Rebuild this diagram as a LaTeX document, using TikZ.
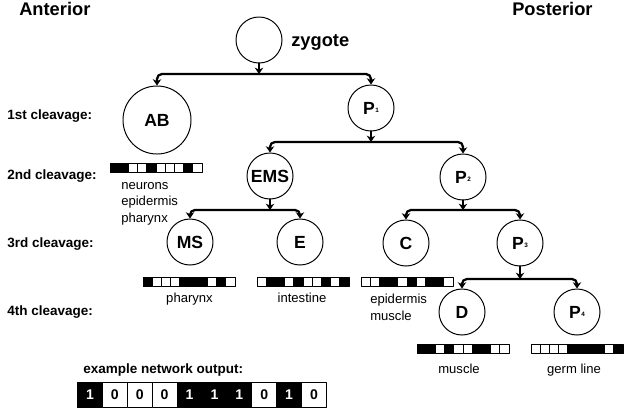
\documentclass[tikz,border=0pt]{standalone}
\usepackage{fontspec}
\setmainfont{Liberation Sans}
\usetikzlibrary{arrows.meta}
\begin{document}
\begin{tikzpicture}[x=0.025cm,y=-0.025cm,line cap=round,line join=round,font=\fontsize{9.3}{11}\selectfont]
	\useasboundingbox (0,0) rectangle (636,410);
	\def\ps#1{\kern0.4pt\raisebox{0.8pt}{\fontsize{4.5}{5}\selectfont#1}}
	\tikzset{cell/.style={circle,draw,line width=0.7pt,inner sep=0pt,minimum size=1.15cm,font=\fontsize{12.5}{14}\selectfont\bfseries},
		big/.style={cell,minimum size=1.7cm},
		txt/.style={anchor=base west,inner sep=0pt},
		lab/.style={txt,font=\fontsize{9.6}{11}\selectfont\bfseries},
		head/.style={txt,font=\fontsize{13}{15}\selectfont\bfseries},
		link/.style={line width=1.6pt,rounded corners=3.5pt,-{Stealth[length=4.5pt,width=6pt]}},
		split/.style={link,{Stealth[length=4.5pt,width=6pt]}-{Stealth[length=4.5pt,width=6pt]}},
		bar/.pic={\foreach \b [count=\i from 0] in {#1}{\ifnum\b=1 \def\fc{black}\else\def\fc{white}\fi
				\draw[fill=\fc,line width=0.7pt] (\i*9.2,0) rectangle ++(9.2,9.5);}}}
	% headings
	\node[head] (ant) at (19,15) {Anterior};
	\node[head] (post) at (512,15) {Posterior};
	\foreach \lb/\y [count=\i] in {1st/119,2nd/179,3rd/247,4th/315}{\node[lab] (cl\i) at (7,\y) {\lb\ cleavage:};}
	% cells
	\node[cell] (zy) at (259,40) {};
	\node[head] (zyl) at (291,46) {zygote};
	\node[big] (ab) at (157,120) {AB};
	\node[cell] (p1) at (371,108) {P\ps1};
	\node[cell] (ems) at (270,176) {EMS};
	\node[cell] (p2) at (463,177) {P\ps2};
	\node[cell] (ms) at (190,242) {MS};
	\node[cell] (e) at (300,242) {E};
	\node[cell] (c) at (406,243) {C};
	\node[cell] (p3) at (520,243) {P\ps3};
	\node[cell] (d) at (462,312) {D};
	\node[cell] (p4) at (577,312) {P\ps4};
	% divisions
	\coordinate (s1) at (259,74);
	\coordinate (s2) at (371,142);
	\coordinate (s3) at (270,210);
	\coordinate (s4) at (463,210);
	\coordinate (s5) at (520,279);
	\draw[link] (zy) -- (s1);\draw[split] (ab) |- (s1) -| (p1);
	\draw[link] (p1) -- (s2);\draw[split] (ems) |- (s2) -| (p2);
	\draw[link] (ems) -- (s3);\draw[split] (ms) |- (s3) -| (e);
	\draw[link] (p2) -- (s4);\draw[split] (c) |- (s4) -| (p3);
	\draw[link] (p3) -- (s5);\draw[split] (d) |- (s5) -| (p4);
	% codes
	\pic at (110,163) {bar={1,1,0,0,1,0,0,0,1,0}};
	\pic at (143,277) {bar={1,0,0,0,1,1,1,0,1,0}};
	\pic at (257,277) {bar={0,1,1,0,1,0,0,1,0,1}};
	\pic at (361,277) {bar={0,0,1,1,0,1,0,1,1,0}};
	\pic at (417,344) {bar={1,1,0,1,0,0,1,1,0,0}};
	\pic at (531,344) {bar={0,0,0,0,1,1,1,1,0,1}};
	\foreach \lb [count=\i] in {neurons,epidermis,pharynx}{\node[txt] (ab\i) at (121,172.5+16.5*\i) {\lb};}
	\foreach \lb [count=\i] in {epidermis,muscle}{\node[txt] (c\i) at (370,286+17*\i) {\lb};}
	\node[anchor=base] (msl) at (189.5,302) {pharynx};
	\node[anchor=base] (el) at (302,302) {intestine};
	\node[anchor=base] (dl) at (459,373) {muscle};
	\node[anchor=base] (p4l) at (574,373) {germ line};
	% output
	\node[lab] (ex) at (83,373) {example network output:};
	\foreach \b [count=\i from 0] in {1,0,0,0,1,1,1,0,1,0}{\ifnum\b=1 \def\fc{black}\def\tc{white}\else\def\fc{white}\def\tc{black}\fi
		\node[draw,fill=\fc,text=\tc,line width=0.7pt,anchor=north west,inner sep=0pt,minimum width=0.6225cm,minimum height=0.625cm,font=\fontsize{10}{12}\selectfont\bfseries] (o\i) at (77+\i*24.9,382) {\b};}
\end{tikzpicture}
\end{document}
